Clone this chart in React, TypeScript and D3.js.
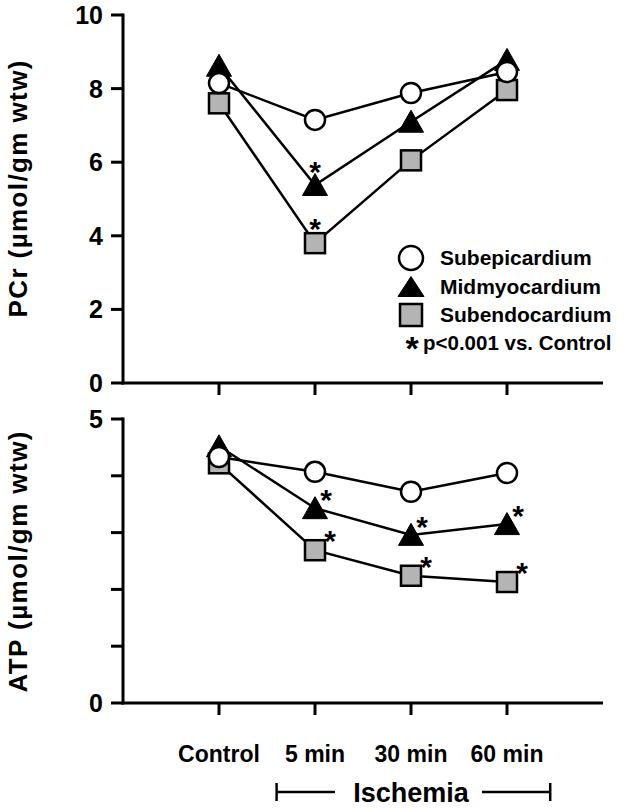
import React from "react";
import * as d3 from "d3";

const categories = ["Control", "5 min", "30 min", "60 min"];
const seriesNames = ["Subepicardium", "Midmyocardium", "Subendocardium"];

const pcrSubepi = [8.15, 7.15, 7.88, 8.45];
const pcrMid = [8.62, 5.38, 7.1, 8.78];
const pcrSubendo = [7.6, 3.8, 6.05, 7.96];
const pcrMidSig = [false, true, false, false];
const pcrSubendoSig = [false, true, false, false];

const atpSubepi = [4.33, 4.07, 3.72, 4.05];
const atpMid = [4.52, 3.43, 2.96, 3.15];
const atpSubendo = [4.22, 2.69, 2.24, 2.13];
const atpMidSig = [false, true, true, true];
const atpSubendoSig = [false, true, true, true];

const pcrTicks = [0, 2, 4, 6, 8, 10];
const atpTicks = [0, 1, 2, 3, 4, 5];
const atpTickLabels = [0, 5];

const FONT = "'Liberation Sans', Arial, Helvetica, sans-serif";
const GRAY = "#b4b4b4";

const x = d3.scaleLinear().domain([0, 5]).range([123, 603]);

function triPath(cx: number, cy: number, w: number, h: number) {
  return `M${cx},${cy - h / 2 - 1}L${cx + w / 2},${cy + h / 2}L${cx - w / 2},${cy + h / 2}Z`;
}

function Star({ cx, cy, size = 30 }: { cx: number; cy: number; size?: number }) {
  return (
    <text x={cx} y={cy + size * 0.57} textAnchor="middle" fontSize={size} fontWeight="bold" fontFamily={FONT}>
      *
    </text>
  );
}

function Panel({
  y,
  ticks,
  labels,
  title,
  titleLen,
  titleCy,
  subepi,
  mid,
  endo,
  midSig,
  endoSig,
  starMode,
}: any) {
  const [y0, y1] = y.range();
  const line = d3
    .line<number>()
    .x((_, i) => x(i + 1))
    .y((v) => y(v));
  return (
    <g>
      {/* y axis */}
      <line x1={123} x2={123} y1={y1 - 1.5} y2={y0 + 1.5} stroke="#000" strokeWidth={3} />
      {ticks.map((t: number) => (
        <line key={t} x1={111} x2={123} y1={y(t)} y2={y(t)} stroke="#000" strokeWidth={3} />
      ))}
      {labels.map((t: number) => (
        <text key={t} x={103} y={y(t)} dy="0.36em" textAnchor="end" fontSize={25} fontWeight="bold" fontFamily={FONT}>
          {t}
        </text>
      ))}
      {/* x axis */}
      <line x1={121.5} x2={x(5)} y1={y0} y2={y0} stroke="#000" strokeWidth={3} />
      {categories.map((c, i) => (
        <line key={c} x1={x(i + 1)} x2={x(i + 1)} y1={y0} y2={y0 + 12} stroke="#000" strokeWidth={3} />
      ))}
      {/* title */}
      <text
        transform={`translate(27,${titleCy}) rotate(-90)`}
        textAnchor="middle"
        fontSize={26}
        fontWeight="bold"
        fontFamily={FONT}
        textLength={titleLen}
        lengthAdjust="spacing"
      >
        {title}
      </text>
      {/* lines */}
      {[endo, mid, subepi].map((s: number[], k: number) => (
        <path key={k} d={line(s) || ""} fill="none" stroke="#000" strokeWidth={2.5} />
      ))}
      {/* markers */}
      {endo.map((v: number, i: number) => (
        <rect key={"s" + i} x={x(i + 1) - 10} y={y(v) - 10} width={20} height={20} fill={GRAY} stroke="#000" strokeWidth={2.5} />
      ))}
      {mid.map((v: number, i: number) => (
        <path key={"t" + i} d={triPath(x(i + 1), y(v), 25, 21)} fill="#000" stroke="#000" strokeWidth={1} />
      ))}
      {subepi.map((v: number, i: number) => (
        <circle key={"c" + i} cx={x(i + 1)} cy={y(v)} r={10} fill="#fff" stroke="#000" strokeWidth={2.5} />
      ))}
      {/* stars */}
      {midSig.map((s: boolean, i: number) =>
        s ? (
          starMode === "above" ? (
            <Star key={"ms" + i} cx={x(i + 1)} cy={y(mid[i]) - 20} />
          ) : (
            <Star key={"ms" + i} cx={x(i + 1) + 11} cy={y(mid[i]) - 15} />
          )
        ) : null
      )}
      {endoSig.map((s: boolean, i: number) =>
        s ? (
          starMode === "above" ? (
            <Star key={"es" + i} cx={x(i + 1)} cy={y(endo[i]) - 21} />
          ) : (
            <Star key={"es" + i} cx={x(i + 1) + 15} cy={y(endo[i]) - 16} />
          )
        ) : null
      )}
    </g>
  );
}

export default function App() {
  const yPcr = d3.scaleLinear().domain([0, 10]).range([383, 15]);
  const yAtp = d3.scaleLinear().domain([0, 5]).range([703, 419]);
  const legendY = [258, 287, 315];
  const lx = 411;
  const bracketL = x(1.6);
  const bracketR = x(4.45);
  const by = 792;
  return (
    <svg width={624} height={809} style={{ position: "absolute", left: 0, top: 0, background: "#fff" }}>
      <rect width={624} height={809} fill="#fff" />
      <Panel
        y={yPcr}
        ticks={pcrTicks}
        labels={pcrTicks}
        title="PCr (µmol/gm wtw)"
        titleLen={257}
        titleCy={189}
        subepi={pcrSubepi}
        mid={pcrMid}
        endo={pcrSubendo}
        midSig={pcrMidSig}
        endoSig={pcrSubendoSig}
        starMode="above"
      />
      <Panel
        y={yAtp}
        ticks={atpTicks}
        labels={atpTickLabels}
        title="ATP (µmol/gm wtw)"
        titleLen={261}
        titleCy={562}
        subepi={atpSubepi}
        mid={atpMid}
        endo={atpSubendo}
        midSig={atpMidSig}
        endoSig={atpSubendoSig}
        starMode="side"
      />
      {/* legend */}
      <circle cx={lx} cy={legendY[0]} r={12} fill="#fff" stroke="#000" strokeWidth={2.5} />
      <path d={triPath(lx, legendY[1], 26, 19)} fill="#000" stroke="#000" strokeWidth={1} />
      <rect x={lx - 11} y={legendY[2] - 11} width={22} height={22} fill={GRAY} stroke="#000" strokeWidth={2.5} />
      {seriesNames.map((n, i) => (
        <text key={n} x={440} y={legendY[i]} dy="0.35em" fontSize={21} fontWeight="bold" fontFamily={FONT}>
          {n}
        </text>
      ))}
      <Star cx={412} cy={341} size={34} />
      <text x={423} y={350} fontSize={20.5} fontWeight="bold" fontFamily={FONT}>
        p&lt;0.001 vs. Control
      </text>
      {/* x labels */}
      {categories.map((c, i) => (
        <text key={c} x={x(i + 1)} y={762} textAnchor="middle" fontSize={23} fontWeight="bold" fontFamily={FONT}>
          {c}
        </text>
      ))}
      {/* Ischemia bracket */}
      <line x1={bracketL} x2={bracketL} y1={783} y2={801} stroke="#000" strokeWidth={2.5} />
      <line x1={bracketL} x2={335} y1={by} y2={by} stroke="#000" strokeWidth={2.5} />
      <text x={x(3)} y={802} textAnchor="middle" fontSize={27} fontWeight="bold" fontFamily={FONT}>
        Ischemia
      </text>
      <line x1={482} x2={bracketR} y1={by} y2={by} stroke="#000" strokeWidth={2.5} />
      <line x1={bracketR} x2={bracketR} y1={783} y2={801} stroke="#000" strokeWidth={2.5} />
    </svg>
  );
}
